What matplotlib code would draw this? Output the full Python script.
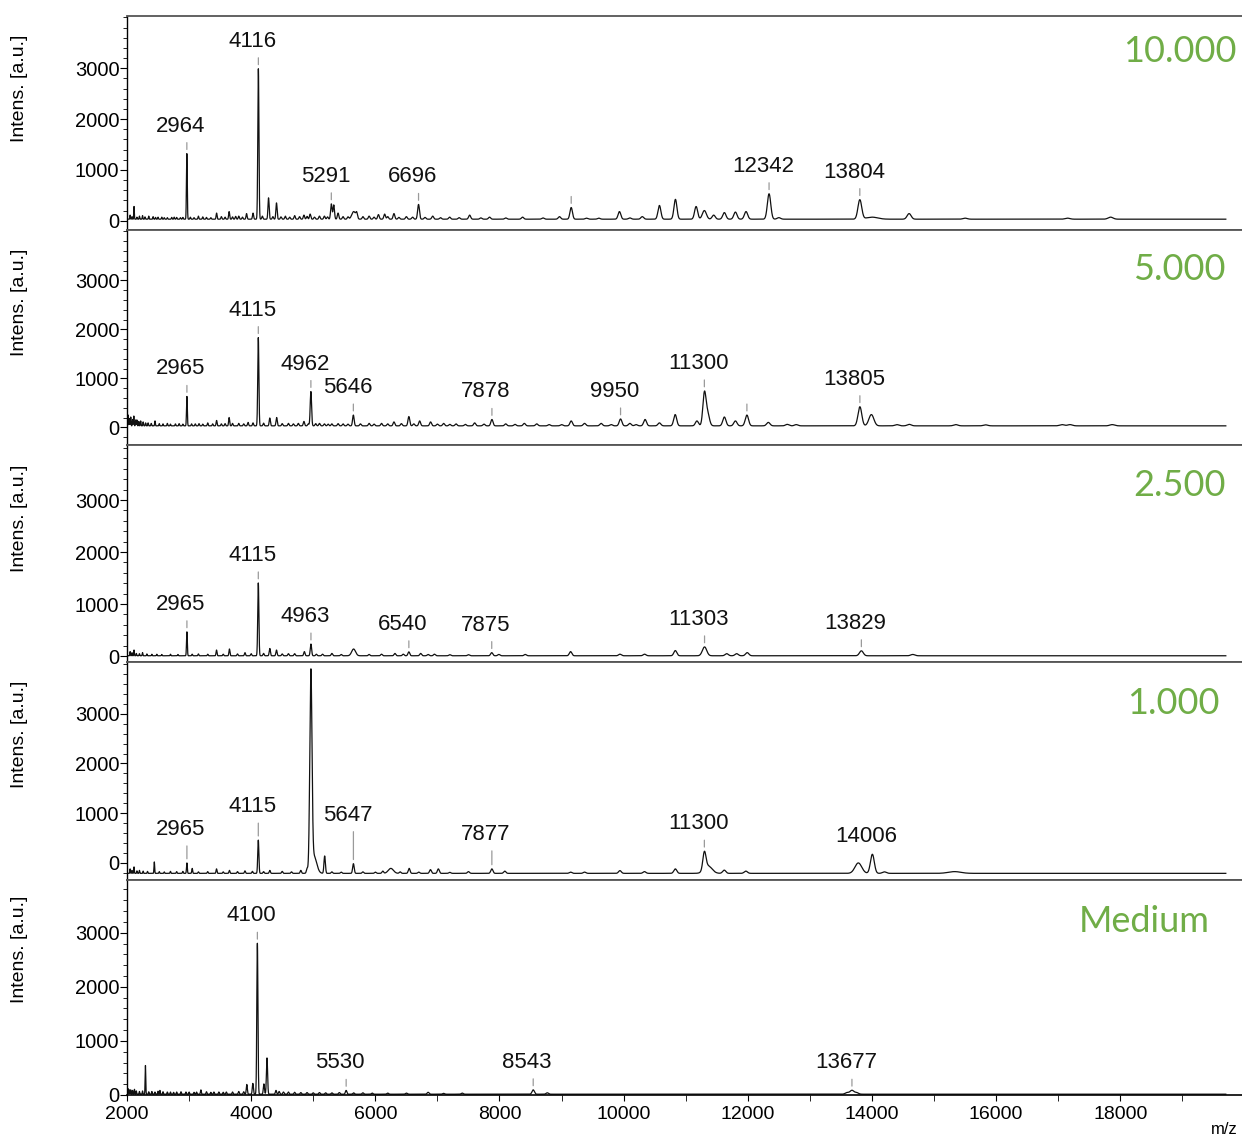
import numpy as np
import matplotlib.pyplot as plt
from matplotlib.ticker import MultipleLocator

plt.rcParams['font.family'] = ['Liberation Sans', 'DejaVu Sans']

# m/z grid shared by all spectra
mz = np.arange(2000, 19700, 1.0)

panel_names = ['10.000', '5.000', '2.500', '1.000', 'Medium']
baselines = [30, 30, 5, -215, 15]

# ---- 10.000 ----
p1_mz = [2050, 2113, 2250, 2350, 2500, 2650, 2800, 2964, 3150, 3443, 3645, 3800,
         3926, 4030, 4116, 4280, 4408, 4550, 4700, 4850, 4950, 5100, 5291, 5330,
         5400, 5652, 5700, 5900, 6050, 6150, 6300, 6500, 6696, 6924, 7197, 7519,
         7840, 8372, 8966, 9155, 9932, 10300, 10576, 10834, 11167, 11300, 11450,
         11622, 11800, 11971, 12342, 12500, 13804, 14000, 14598, 15500, 17150, 17843]
p1_int = [80, 250, 70, 60, 40, 30, 35, 1290, 60, 120, 150, 60,
          110, 120, 2960, 420, 320, 60, 70, 80, 100, 60, 300, 280,
          120, 150, 100, 60, 90, 100, 110, 50, 290, 60, 40, 80,
          40, 40, 50, 230, 150, 50, 270, 390, 250, 170, 80,
          130, 140, 150, 500, 30, 380, 40, 110, 20, 20, 40]
p1_small_mz = [2080, 2160, 2200, 2290, 2420, 2460, 2560, 2600, 2720, 2760, 2860,
               2900, 3020, 3080, 3220, 3280, 3350, 3520, 3580, 3700, 3750, 3860,
               4180, 4350, 4480, 4620, 4780, 4900, 5020, 5180, 5230, 5480, 5560,
               5800, 5980, 6200, 6380, 6600, 6800, 7050, 7350, 7700, 8100, 8700,
               9400, 9600, 10100]
p1_small_int = [50, 40, 60, 45, 50, 35, 40, 30, 35, 40, 30,
                35, 40, 30, 45, 35, 30, 50, 40, 45, 55, 40,
                60, 50, 45, 40, 50, 55, 40, 60, 45, 50, 45,
                50, 40, 50, 35, 40, 35, 30, 30, 25, 25, 25,
                20, 20, 25]
p1_labels = [2964, 4116, 5291, 6696, 12342, 13804]
p1_marks = [9155]

# ---- 5.000 ----
p2_mz = [2020, 2060, 2110, 2160, 2220, 2300, 2451, 2965, 3100, 3300, 3443, 3645,
         3800, 3950, 4030, 4115, 4300, 4410, 4600, 4850, 4962, 5100, 5300, 5646,
         5900, 6100, 6300, 6540, 6714, 6890, 7100, 7300, 7600, 7878, 8100, 8400,
         8600, 9155, 9370, 9637, 9950, 10100, 10345, 10576, 10830, 11180, 11300,
         11350, 11622, 11800, 11985, 12330, 12635, 12780, 13805, 13990, 14400,
         14600, 15350, 15830, 17060, 17190, 17870]
p2_int = [220, 180, 200, 120, 100, 60, 100, 600, 40, 60, 110, 170,
          50, 70, 60, 1800, 160, 170, 50, 90, 700, 50, 40, 220,
          50, 50, 80, 190, 100, 80, 50, 40, 60, 130, 40, 50,
          40, 100, 50, 50, 140, 50, 130, 60, 230, 100, 640,
          260, 180, 100, 220, 70, 30, 25, 390, 230, 25,
          30, 25, 20, 25, 25, 25]
p2_small_mz = [2040, 2090, 2140, 2190, 2260, 2340, 2390, 2520, 2580, 2650, 2700,
               2780, 2840, 2900, 3040, 3160, 3220, 3380, 3520, 3580, 3700, 3880,
               4200, 4500, 4680, 4760, 4920, 5040, 5180, 5240, 5400, 5480, 5560,
               5760, 5980, 6200, 6420, 6620, 7000, 7200, 7450, 7750, 8250, 8800,
               9000, 9800, 10200]
p2_small_int = [150, 130, 120, 90, 80, 60, 50, 45, 40, 50, 35,
                40, 45, 35, 40, 45, 35, 40, 40, 45, 50, 40,
                55, 45, 40, 50, 40, 45, 40, 35, 45, 40, 35,
                40, 35, 40, 45, 40, 35, 30, 30, 35, 30, 25,
                25, 25, 25]
p2_labels = [2965, 4115, 4962, 5646, 7878, 9950, 11300, 13805]
p2_marks = [11985]

# ---- 2.500 ----
p3_mz = [2050, 2113, 2250, 2400, 2965, 3442, 3650, 3900, 4115, 4300, 4408, 4600,
         4857, 4963, 5300, 5650, 6100, 6315, 6540, 6730, 6952, 7500, 7875, 7990,
         8415, 9145, 9940, 10337, 10832, 11303, 11660, 11820, 11990, 13829, 14657]
p3_int = [80, 110, 60, 30, 460, 110, 130, 60, 1400, 140, 110, 40,
          80, 225, 45, 130, 30, 45, 75, 45, 30, 20, 60, 25,
          25, 80, 30, 30, 100, 170, 40, 40, 60, 95, 25]
p3_small_mz = [2080, 2150, 2200, 2320, 2480, 2560, 2700, 2820, 3050, 3150, 3300,
               3550, 3780, 4000, 4200, 4500, 4700, 5050, 5150, 5450, 5900, 6450,
               6850, 7200]
p3_small_int = [60, 45, 40, 35, 30, 25, 30, 25, 30, 35, 30,
                30, 35, 40, 45, 35, 40, 30, 30, 25, 25, 30,
                25, 20]
p3_labels = [2965, 4115, 4963, 6540, 7875, 11303, 13829]
p3_marks = []

# ---- 1.000 ----
p4_mz = [2050, 2113, 2200, 2440, 2700, 2965, 3050, 3442, 3650, 3900, 4115, 4300,
         4500, 4800, 4900, 4962, 5010, 5184, 5647, 6120, 6250, 6545, 6888, 7015,
         7500, 7877, 8085, 9145, 9370, 9940, 10335, 10832, 11300, 11360, 11620,
         11968, 13780, 14006, 14200, 15330]
p4_int = [90, 130, 60, 230, 40, 210, 100, 90, 60, 50, 670, 60,
          40, 60, 80, 3930, 350, 350, 195, 45, 100, 100, 75, 90,
          35, 90, 45, 25, 25, 55, 35, 90, 350, 150, 65,
          45, 210, 385, 30, 35]
p4_small_mz = [2080, 2160, 2260, 2330, 2520, 2600, 2800, 2900, 3150, 3300, 3550,
               3780, 4020, 4200, 4650, 5300, 5450, 5800, 6000, 6400, 6700, 7200]
p4_small_int = [60, 50, 45, 40, 35, 30, 35, 40, 30, 35, 30,
                35, 40, 35, 30, 30, 25, 30, 25, 30, 25, 20]
p4_labels = [2965, 4115, 5647, 7877, 11300, 14006]
p4_marks = []

# ---- Medium ----
p5_mz = [2020, 2060, 2120, 2297, 2400, 2530, 2650, 2800, 2950, 3190, 3400, 3600,
         3800, 3930, 4027, 4100, 4205, 4255, 4400, 4600, 4800, 5000, 5300, 5530,
         5800, 6200, 6850, 7400, 8543, 8770, 13600, 13677, 13750]
p5_int = [100, 80, 90, 530, 50, 70, 40, 40, 40, 80, 40, 40,
          50, 180, 200, 2790, 190, 670, 70, 40, 30, 25, 25, 70,
          25, 20, 35, 20, 80, 25, 30, 70, 30]
p5_small_mz = [2040, 2090, 2150, 2200, 2250, 2350, 2450, 2500, 2580, 2700, 2750,
               2870, 3000, 3080, 3120, 3280, 3350, 3480, 3550, 3700, 3880, 4450,
               4520, 4700, 4900, 5100, 5200, 5420, 5650, 5950, 6500, 7100]
p5_small_int = [80, 70, 60, 50, 60, 45, 40, 55, 45, 40, 35,
                45, 40, 35, 40, 45, 35, 40, 35, 40, 45, 50,
                40, 35, 30, 30, 25, 30, 25, 20, 20, 15]
p5_labels = [4100, 5530, 8543, 13677]
p5_marks = []

# broader peaks (width factor relative to the default)
wide = [{5652: 2.5, 14000: 3.0, 11300: 1.3},
        {11350: 1.2, 13990: 1.3},
        {5650: 2.5, 11303: 1.4},
        {4962: 1.6, 5010: 4.0, 6250: 3.0, 13780: 1.8, 15330: 3.0, 11360: 2.5},
        {}]

peaks = [(p1_mz + p1_small_mz, p1_int + p1_small_int, p1_labels, p1_marks),
         (p2_mz + p2_small_mz, p2_int + p2_small_int, p2_labels, p2_marks),
         (p3_mz + p3_small_mz, p3_int + p3_small_int, p3_labels, p3_marks),
         (p4_mz + p4_small_mz, p4_int + p4_small_int, p4_labels, p4_marks),
         (p5_mz + p5_small_mz, p5_int + p5_small_int, p5_labels, p5_marks)]


def spectrum(centers, heights, offset, broad):
    y = np.full_like(mz, float(offset))
    for c, h in zip(centers, heights):
        s = 0.0022 * c * broad.get(c, 1.0)
        y += h * np.exp(-0.5 * ((mz - c) / s) ** 2)
    return y


# panel rows in pixels (top, bottom) and y ranges
rows = [(15.7, 230), (230, 445), (445, 662), (662, 880), (880, 1095)]
ylims = [(-183, 4035), (-361, 4027), (-115, 4058), (-349, 4046), (0, 3975)]
name_pos = [(1237, 52), (1226, 269), (1226, 486), (1220, 703), (1210, 922)]
ylab_y = [88, 302, 518, 734, 949]
# extra lift (px) for crowded labels
lift = [{}, {}, {}, {2965: 6, 4115: 6, 5647: 21, 7877: 7, 14006: -10}, {}]

W, H = 1242, 1137
fig = plt.figure(figsize=(W / 100, H / 100), dpi=100)
green = '#70AD47'

for i in range(5):
    top, bot = rows[i]
    ax = fig.add_axes([127 / W, 1 - bot / H, 1 - 127 / W, (bot - top) / H])
    p_mz, p_int, labels, marks = peaks[i]
    y = spectrum(p_mz, p_int, baselines[i], wide[i])
    ax.plot(mz, y, color='#111111', lw=0.9)
    ax.set_xlim(2000, 19960)
    ax.set_ylim(*ylims[i])

    ax.spines['right'].set_visible(False)
    ax.spines['top'].set_color('#555555')
    ax.spines['top'].set_linewidth(1.3)
    ax.spines['left'].set_linewidth(1.0)
    if i < 4:
        ax.spines['bottom'].set_color('#555555')
        ax.spines['bottom'].set_linewidth(1.3)
        ax.set_xticks([])
    else:
        ax.spines['bottom'].set_linewidth(1.2)
        ax.xaxis.set_minor_locator(MultipleLocator(1000))
        ax.set_xticks(range(2000, 19000, 2000))
        ax.tick_params(axis='x', which='both', direction='out', length=4,
                       labelsize=14, pad=4)

    ax.set_yticks([0, 1000, 2000, 3000])
    ax.yaxis.set_minor_locator(MultipleLocator(200))
    ax.tick_params(axis='y', which='major', direction='out', length=5,
                   labelsize=14.5, pad=0.5)
    ax.tick_params(axis='y', which='minor', direction='out', length=3)

    # peak labels with short grey marker above each peak
    for m in list(labels) + list(marks):
        near = np.abs(mz - m) < 25
        ytop = y[near].max()
        up = lift[i].get(m, 0)
        if 11 + up > 4:
            ax.annotate('', xy=(m, ytop), xytext=(0, 11 + up),
                        textcoords='offset pixels',
                        arrowprops=dict(arrowstyle='-', color='#9a9a9a', lw=0.9,
                                        shrinkA=0, shrinkB=3))
        if m in labels:
            ax.annotate(str(m), xy=(m, ytop), xytext=(-6, 22 + up),
                        textcoords='offset pixels', ha='center', va='baseline',
                        fontsize=16, color='#111111')

    fig.text(20 / W, 1 - ylab_y[i] / H, 'Intens. [a.u.]', rotation=90,
             ha='center', va='center', fontsize=14)
    nx, ny = name_pos[i]
    fig.text(nx / W, 1 - ny / H, panel_names[i], ha='right', va='center',
             fontsize=26, color=green, family=['Lato', 'DejaVu Sans'])

fig.text(1211 / W, 1 - 1130 / H, 'm/z', ha='left', va='center', fontsize=12)

fig.savefig('out.png', dpi=100)
